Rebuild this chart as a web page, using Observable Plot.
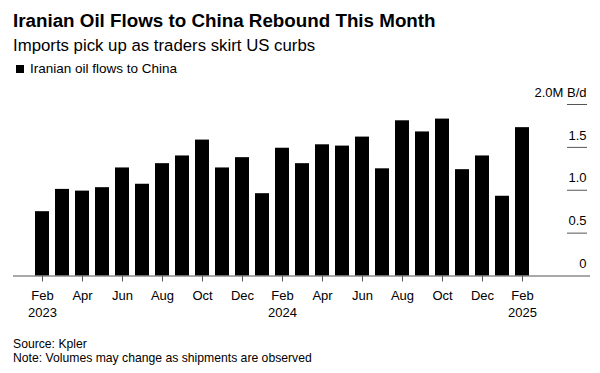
<!DOCTYPE html>
<html>
<head>
<meta charset="utf-8">
<script src="https://cdn.jsdelivr.net/npm/d3@7"></script>
<script src="https://cdn.jsdelivr.net/npm/@observablehq/plot@0.6"></script>
<style>
  body { margin: 0; background: #fff; font-family: "Liberation Sans", Arial, sans-serif; color: #000; }
  #wrap { position: relative; width: 600px; height: 373px; overflow: hidden; }
  .t { position: absolute; white-space: nowrap; }
  #title { left: 13px; top: 10.6px; font-size: 18.8px; line-height: 20px; font-weight: bold; }
  #subtitle { left: 13px; top: 36.6px; font-size: 16.8px; line-height: 18px; }
  #legend { left: 15.5px; top: 61.3px; font-size: 13.5px; line-height: 16px; }
  #legend .sw { display: inline-block; width: 8.5px; height: 8.5px; background: #000; margin-right: 6px; vertical-align: 0px; }
  #chart { position: absolute; left: 0; top: 80px; }
  #caption { left: 13px; top: 336.9px; font-size: 12.2px; line-height: 14.4px; }
</style>
</head>
<body>
<div id="wrap">
  <div class="t" id="title">Iranian Oil Flows to China Rebound This Month</div>
  <div class="t" id="subtitle">Imports pick up as traders skirt US curbs</div>
  <div class="t" id="legend"><span class="sw"></span>Iranian oil flows to China</div>
  <div id="chart"></div>
  <div class="t" id="caption">Source: Kpler<br>Note: Volumes may change as shipments are observed</div>
</div>
<script>
const months = ["2023-02","2023-03","2023-04","2023-05","2023-06","2023-07","2023-08","2023-09","2023-10","2023-11","2023-12",
                "2024-01","2024-02","2024-03","2024-04","2024-05","2024-06","2024-07","2024-08","2024-09","2024-10","2024-11","2024-12",
                "2025-01","2025-02"];
const flows = [0.75, 1.01, 0.99, 1.03, 1.26, 1.07, 1.31, 1.40, 1.585, 1.26, 1.38,
               0.96, 1.49, 1.31, 1.53, 1.515, 1.62, 1.25, 1.81, 1.68, 1.83, 1.24, 1.40,
               0.93, 1.73];
const tickMonths = ["2023-02","2023-04","2023-06","2023-08","2023-10","2023-12",
                    "2024-02","2024-04","2024-06","2024-08","2024-10","2024-12","2025-02"];
const tickLabels = ["Feb\n2023","Apr","Jun","Aug","Oct","Dec","Feb\n2024","Apr","Jun","Aug","Oct","Dec","Feb\n2025"];
const yTicks = [0, 0.5, 1, 1.5, 2];
const yTickLabels = ["0", "0.5", "1.0", "1.5", "2.0M B/d"];

const data = months.map((m, i) => ({month: m, value: flows[i]}));

const chart = Plot.plot({
  width: 600,
  height: 245,
  marginTop: 24,
  marginBottom: 49.5,
  marginLeft: 13,
  marginRight: 10,
  style: {fontFamily: '"Liberation Sans", Arial, sans-serif', color: "#000", background: "#fff"},
  x: {type: "band", domain: months, range: [24, 540], paddingInner: 0.31, paddingOuter: 0.155},
  y: {domain: [0, 2]},
  marks: [
    Plot.barY(data, {x: "month", y: "value", fill: "#000"}),
    Plot.ruleY([0], {stroke: "#555", strokeWidth: 1.2}),
    Plot.axisX({
      ticks: tickMonths,
      tickFormat: d => tickLabels[tickMonths.indexOf(d)],
      tickSize: 6,
      tickPadding: 6.5,
      stroke: "#555",
      fontSize: 13,
      lineHeight: 1.28,
      fill: "#000",
      label: null
    }),
    Plot.axisY({
      anchor: "right",
      ticks: yTicks.filter(d => d > 0),
      tickSize: -20,
      tickPadding: 20,
      dx: -4,
      text: null,
      stroke: "#555",
      label: null
    }),
    Plot.axisY({
      anchor: "right",
      ticks: yTicks,
      tickSize: 0,
      tickPadding: 0,
      dx: -4,
      dy: -12,
      textAnchor: "end",
      tickFormat: d => yTickLabels[yTicks.indexOf(d)],
      fontSize: 13,
      fill: "#000",
      label: null
    })
  ]
});
document.getElementById("chart").appendChild(chart);
</script>
</body>
</html>
